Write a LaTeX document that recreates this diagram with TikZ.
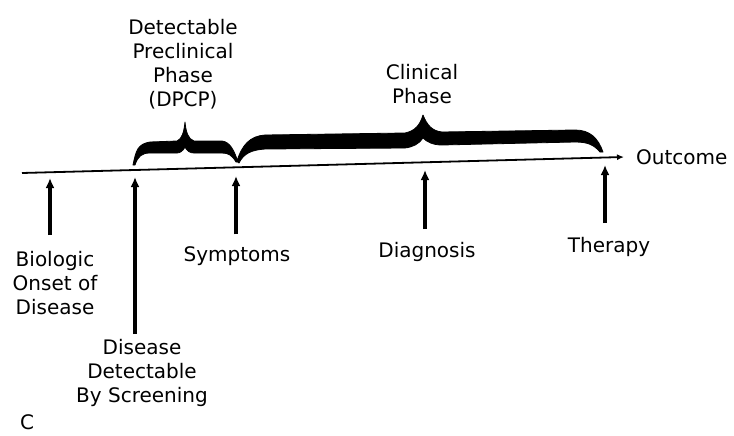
\documentclass[tikz,border=0pt]{standalone}
\usepackage{fontspec}
\setmainfont{DejaVu Sans}
\usetikzlibrary{arrows.meta, positioning}

\begin{document}
\begin{tikzpicture}[
  x=1pt, y=-1pt,
  font=\fontsize{20}{24}\selectfont,
  lbl/.style={align=center, inner sep=2pt},
  tline/.style={draw=black, line width=1.8pt, -{Latex[length=7pt, width=6pt]}},
  evt/.style={draw=black, line width=3.2pt, -{Latex[length=10pt, width=9pt]}},
  brc/.style={fill=black, draw=black, line width=0.8pt, line join=round},
]
\useasboundingbox (0,0) rectangle (734,436);

% time line
\coordinate (tstart) at (22,173);
\coordinate (tend)   at (624,157);
\node[lbl, anchor=west] (outcome) at (634,157) {Outcome};
\draw[tline] (tstart) -- (tend);

% points on the line
\coordinate (p1) at (50,178);
\coordinate (p2) at (135,177);
\coordinate (p3) at (236,176);
\coordinate (p4) at (425,170);
\coordinate (p5) at (605,165);

% events below the line
\node[lbl] (onset)     at (55,283)  {Biologic\\Onset of\\Disease};
\node[lbl] (screening) at (142,373) {Disease\\Detectable\\By Screening};
\node[lbl] (symptoms)  at (237,256) {Symptoms};
\node[lbl] (diagnosis) at (427,252) {Diagnosis};
\node[lbl] (therapy)   at (609,247) {Therapy};
\draw[evt] ([yshift=14pt]p1 |- onset.north) -- (p1);
\draw[evt] ([yshift=3pt]p2 |- screening.north) -- (p2);
\draw[evt] ([yshift=10pt]p3 |- symptoms.north) -- (p3);
\draw[evt] ([yshift=11pt]p4 |- diagnosis.north) -- (p4);
\draw[evt] ([yshift=12pt]p5 |- therapy.north) -- (p5);

% phases above the line
\node[lbl] (dpcp)     at (183,64) {Detectable\\Preclinical\\Phase\\(DPCP)};
\node[lbl] (clinical) at (422,84) {Clinical\\Phase};

\fill[brc] (133,165) .. controls (136,150) and (138,144) .. (150,142) -- (177,141)
  .. controls (182,139) and (184,132) .. (185,122)
  .. controls (186,132) and (188,139) .. (194,141) -- (222,141)
  .. controls (230,142) and (234,150) .. (238,162)
  -- (236,162) .. controls (232,155) and (228,153) .. (222,153) -- (194,153)
  .. controls (190,153) and (187,151) .. (185,147)
  .. controls (183,151) and (180,153) .. (177,153) -- (150,153)
  .. controls (142,153) and (138,156) .. (135,165) -- cycle;

\fill[brc] (237,161) .. controls (242,145) and (250,136) .. (265,135) -- (405,133)
  .. controls (415,131) and (420,125) .. (423,115)
  .. controls (427,125) and (432,131) .. (442,132) -- (575,130)
  .. controls (590,130) and (598,138) .. (603,152)
  -- (600,152) .. controls (594,145) and (588,142) .. (575,142) -- (442,145)
  .. controls (433,145) and (427,142) .. (423,138)
  .. controls (419,144) and (413,147) .. (405,148) -- (265,149)
  .. controls (252,150) and (244,153) .. (239,163) -- cycle;

% panel letter
\node[lbl] (panel) at (27,422) {C};
\end{tikzpicture}
\end{document}
